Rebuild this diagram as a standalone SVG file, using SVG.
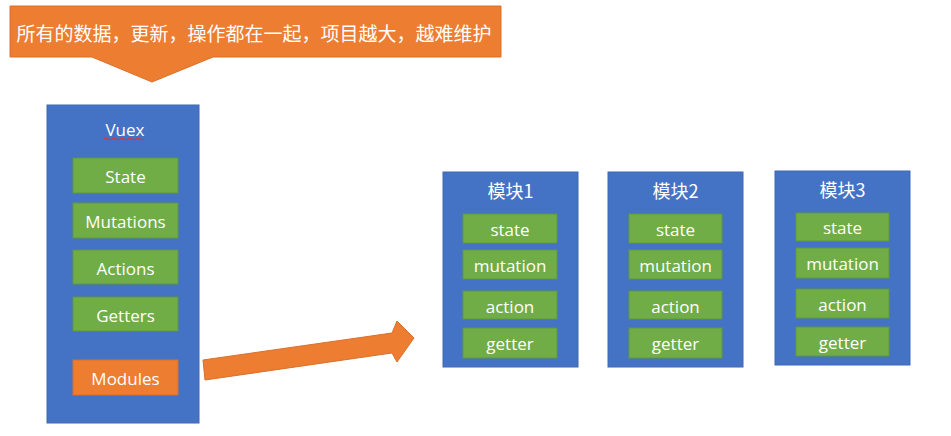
<svg xmlns="http://www.w3.org/2000/svg" width="951" height="436" viewBox="0 0 951 436">
<style>
.blue{fill:#4472C4;stroke:#3F68B3;stroke-width:1}
.green{fill:#70AD47;stroke:#5E9A3A;stroke-width:1}
.orange{fill:#ED7D31;stroke:#D9702A;stroke-width:1}
text{fill:#fff;font-family:"Open Sans","Noto Sans","Noto Sans CJK SC",sans-serif;text-anchor:middle;dominant-baseline:central}
.lbl{font-size:17px}
.ttl{font-size:18px;font-family:"Noto Sans CJK SC","Noto Sans",sans-serif}
</style>
<rect width="951" height="436" fill="#fff"/>
<g id="callout">
<polygon class="orange" points="10,6 501,6 501,57 213,57 152,82 92,57 10,57"/>
<text x="254" y="32" style="font-size:19px;font-family:'Noto Sans CJK SC',sans-serif">所有的数据，更新，操作都在一起，项目越大，越难维护</text>
</g>
<g id="vuex">
<rect class="blue" x="47" y="105" width="152" height="318"/>
<text class="lbl" x="125" y="129">Vuex</text>
<path d="M104,139 q2,-2 4,0 t4,0 t4,0 t4,0 t4,0 t4,0 t4,0 t4,0 t4,0 t4,0" fill="none" stroke="#E03030" stroke-width="1"/>
</g>
<g id="vuex-state"><rect class="green" x="73" y="158" width="105" height="35"/><text class="lbl" x="125.5" y="176">State</text></g>
<g id="vuex-mutations"><rect class="green" x="73" y="203" width="105" height="35"/><text class="lbl" x="125.5" y="221">Mutations</text></g>
<g id="vuex-actions"><rect class="green" x="73" y="250" width="105" height="34"/><text class="lbl" x="125.5" y="268">Actions</text></g>
<g id="vuex-getters"><rect class="green" x="73" y="297" width="105" height="34"/><text class="lbl" x="125.5" y="315">Getters</text></g>
<g id="vuex-modules"><rect class="orange" x="73" y="360" width="105" height="35"/><text class="lbl" x="125.5" y="378">Modules</text></g>
<g id="connectors">
<polygon class="orange" points="203,360 392,333 397,321 414,338 397,362 392,353 205,380"/>
</g>
<g id="module1">
<rect class="blue" x="443" y="172" width="135" height="195"/>
<text class="ttl" x="510.5" y="190">模块1</text>
<rect class="green" x="463" y="214" width="94" height="29"/><text class="lbl" x="510" y="229">state</text>
<rect class="green" x="463" y="250" width="94" height="29"/><text class="lbl" x="510" y="265">mutation</text>
<rect class="green" x="463" y="291" width="94" height="28"/><text class="lbl" x="510" y="306">action</text>
<rect class="green" x="463" y="328" width="94" height="30"/><text class="lbl" x="510" y="343">getter</text>
</g>
<g id="module2">
<rect class="blue" x="608" y="172" width="135" height="195"/>
<text class="ttl" x="675.5" y="190">模块2</text>
<rect class="green" x="629" y="214" width="93" height="29"/><text class="lbl" x="675.5" y="229">state</text>
<rect class="green" x="629" y="250" width="93" height="29"/><text class="lbl" x="675.5" y="265">mutation</text>
<rect class="green" x="629" y="291" width="93" height="28"/><text class="lbl" x="675.5" y="306">action</text>
<rect class="green" x="629" y="328" width="93" height="30"/><text class="lbl" x="675.5" y="343">getter</text>
</g>
<g id="module3">
<rect class="blue" x="775" y="171" width="135" height="194"/>
<text class="ttl" x="842.5" y="189">模块3</text>
<rect class="green" x="796" y="213" width="93" height="28"/><text class="lbl" x="842.5" y="227.5">state</text>
<rect class="green" x="796" y="248" width="93" height="30"/><text class="lbl" x="842.5" y="263">mutation</text>
<rect class="green" x="796" y="289" width="93" height="29"/><text class="lbl" x="842.5" y="304">action</text>
<rect class="green" x="796" y="327" width="93" height="29"/><text class="lbl" x="842.5" y="342">getter</text>
</g>
</svg>
